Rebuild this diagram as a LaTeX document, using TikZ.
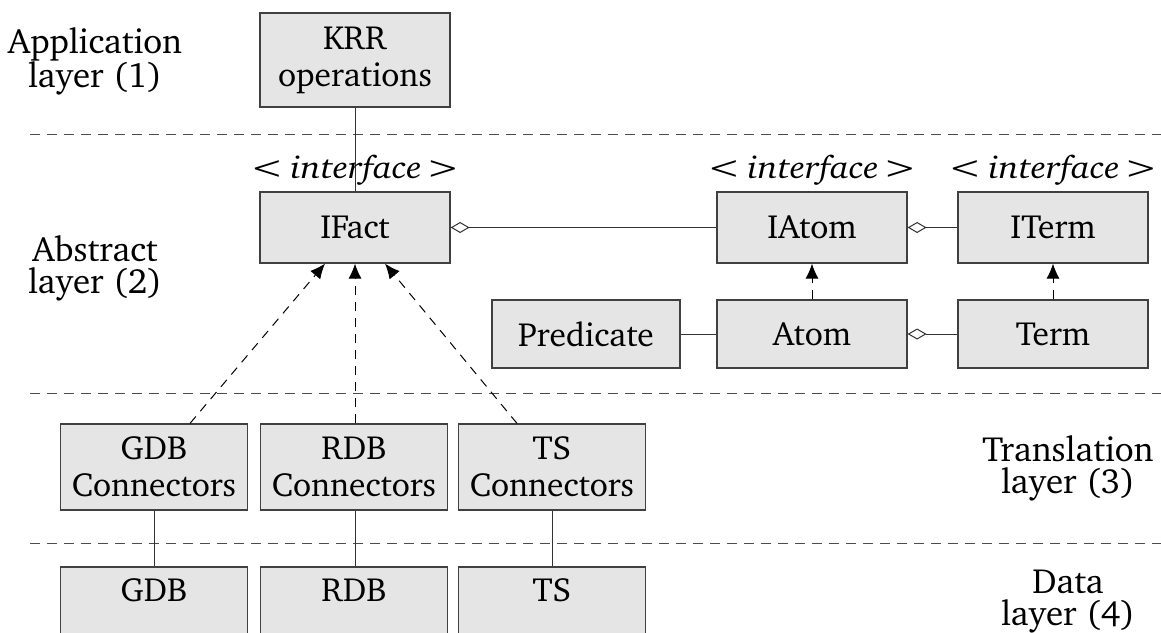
\documentclass[tikz,border=0pt]{standalone}
\usepackage[T1]{fontenc}
\usepackage{charter}
\usetikzlibrary{arrows.meta,calc}
\newcommand{\itfc}{\scalebox{1.3}[1]{\textless}\kern6pt\scalebox{1.13}[1]{\textit{interface}}\kern4pt\scalebox{1.3}[1]{\textgreater}}
\tikzset{
  box/.style={draw=black!75, fill=gray!20, line width=1.2pt, align=center, inner sep=0pt,
              font=\fontsize{33.5}{37}\selectfont},
  lbl/.style={align=center, inner sep=0pt, font=\fontsize{35}{32}\selectfont},
  itf/.style={inner sep=0pt, font=\fontsize{32}{37}\selectfont},
  sep/.style={dash pattern=on 10pt off 7pt, line width=1pt, black!70},
  conn/.style={line width=1pt, black!80},
  dep/.style={dash pattern=on 9pt off 7pt, line width=1pt, -{Latex[length=15pt,width=13pt]}},
  agg/.style={line width=1pt, black!80, {Diamond[open,length=19pt,width=11pt,line width=1pt]}-},
}
\begin{document}
\begin{tikzpicture}[x=1pt,y=-1pt]
\useasboundingbox (0,0) rectangle (1161,632);
\clip (0,0) rectangle (1161,632);
% separators
\draw[sep] (30,134) -- (1161,134);
\draw[sep] (30,393) -- (1161,393);
\draw[sep] (30,543) -- (1161,543);
% layer labels
\node[lbl] (l1) at (95,61) {Application\\layer (1)};
\node[lbl] (l2) at (95,268.5) {Abstract\\layer (2)};
\node[lbl] (l3) at (1068,468) {Translation\\layer (3)};
\node[lbl] (l4) at (1068,601) {Data\\layer (4)};
% boxes
\node[box, minimum width=190pt, minimum height=94pt] (krr) at (355,60) {KRR\\operations};
\node[box, minimum width=190pt, minimum height=71pt] (ifact) at (355,227.5) {IFact};
\node[box, minimum width=190pt, minimum height=71pt] (iatom) at (812,227.5) {IAtom};
\node[box, minimum width=190pt, minimum height=71pt] (iterm) at (1053,227.5) {ITerm};
\node[box, minimum width=188pt, minimum height=68pt] (pred) at (586,334) {Predicate};
\node[box, minimum width=190pt, minimum height=68pt] (atom) at (812,334) {Atom};
\node[box, minimum width=190pt, minimum height=68pt] (term) at (1053,334) {Term};
\node[box, minimum width=187pt, minimum height=86pt] (gdbc) at (154,467) {GDB\\Connectors};
\node[box, minimum width=187pt, minimum height=86pt] (rdbc) at (354,467) {RDB\\Connectors};
\node[box, minimum width=187pt, minimum height=86pt] (tsc) at (552,467) {TS\\Connectors};
\node[box, minimum width=187pt, minimum height=94pt] (gdb) at (154,614) {GDB\\\strut};
\node[box, minimum width=187pt, minimum height=94pt] (rdb) at (354,614) {RDB\\\strut};
\node[box, minimum width=187pt, minimum height=94pt] (ts) at (552,614) {TS\\\strut};
% connectors
\draw[conn] (krr.south) -- (ifact.north);
\node[itf] (int1) at (355,170) {\itfc};
\node[itf] (int2) at (812,170) {\itfc};
\node[itf] (int3) at (1053,170) {\itfc};
\draw[agg] (ifact.east) -- (iatom.west);
\draw[agg] (iatom.east) -- (iterm.west);
\draw[agg] (atom.east) -- (term.west);
\draw[conn] (pred.east) -- (atom.west);
\draw[dep] (atom.north) -- (iatom.south);
\draw[dep] (term.north) -- (iterm.south);
\draw[dep] ([xshift=36pt]gdbc.north) -- ([xshift=-30pt]ifact.south);
\draw[dep] ([xshift=1pt]rdbc.north) -- (ifact.south);
\draw[dep] ([xshift=-35pt]tsc.north) -- ([xshift=30pt]ifact.south);
\draw[conn] (gdbc.south) -- (gdb.north);
\draw[conn] ([xshift=1pt]rdbc.south) -- ([xshift=1pt]rdb.north);
\draw[conn] (tsc.south) -- (ts.north);
\end{tikzpicture}
\end{document}
